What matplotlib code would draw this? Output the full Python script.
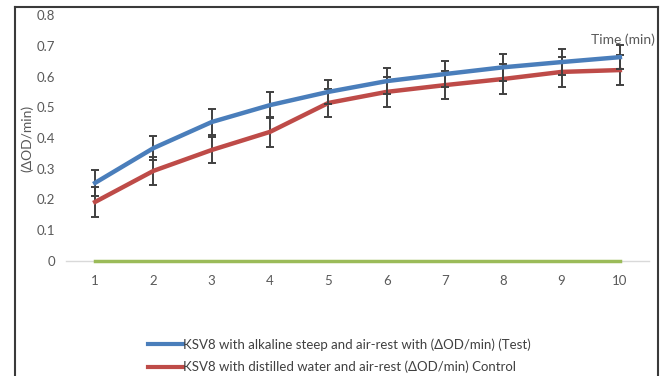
import matplotlib.pyplot as plt
from matplotlib.lines import Line2D

plt.rcParams['font.family'] = ['Lato', 'DejaVu Sans']

time_min = [1, 2, 3, 4, 5, 6, 7, 8, 9, 10]
test_vals = [0.254, 0.367, 0.452, 0.507, 0.550, 0.585, 0.608, 0.630, 0.647, 0.663]
test_err = [0.042, 0.040, 0.042, 0.043, 0.039, 0.042, 0.042, 0.043, 0.043, 0.039]
ctrl_vals = [0.192, 0.293, 0.361, 0.420, 0.514, 0.550, 0.572, 0.592, 0.615, 0.621]
ctrl_err = [0.049, 0.046, 0.043, 0.049, 0.046, 0.050, 0.045, 0.049, 0.049, 0.049]
zero_vals = [0] * 10

blue = '#4a7ebb'
red = '#be4b48'
green = '#9bbb59'
grey_txt = '#595959'

fig = plt.figure(figsize=(6.65, 3.76), dpi=100)
ax = fig.add_axes([0.0992, 0.306, 0.8768, 0.654])

ax.plot(time_min, zero_vals, color=green, lw=2.5, zorder=3, clip_on=False)
ax.errorbar(time_min, test_vals, yerr=test_err, color=blue, lw=3.2,
            ecolor='#404040', elinewidth=1.4, capsize=3, capthick=1.4, zorder=5,
            label='KSV8 with alkaline steep and air-rest with (\u0394OD/min) (Test)')
ax.errorbar(time_min, ctrl_vals, yerr=ctrl_err, color=red, lw=3.2,
            ecolor='#404040', elinewidth=1.4, capsize=3, capthick=1.4, zorder=4,
            label='KSV8 with distilled water and air-rest (\u0394OD/min) Control')

ax.set_xlim(0.5, 10.5)
ax.set_ylim(0, 0.8)
ax.set_xticks(time_min)
ax.set_yticks([0, 0.1, 0.2, 0.3, 0.4, 0.5, 0.6, 0.7, 0.8])
ax.set_yticklabels(['0', '0.1', '0.2', '0.3', '0.4', '0.5', '0.6', '0.7', '0.8'])
for s in ['top', 'right', 'left']:
    ax.spines[s].set_visible(False)
ax.spines['bottom'].set_color('#d9d9d9')
ax.spines['bottom'].set_linewidth(1)
ax.tick_params(axis='both', length=0, colors=grey_txt, labelsize=9.5)
ax.tick_params(axis='x', pad=10)
ax.tick_params(axis='y', pad=8)
ax.set_ylabel('(\u0394OD/min)', color=grey_txt, fontsize=10, labelpad=2)
ax.text(10.6, 0.7, 'Time (min)', color=grey_txt, fontsize=10, ha='right', va='bottom')

labels = ax.get_legend_handles_labels()[1]
handles = [Line2D([], [], color=blue, lw=3), Line2D([], [], color=red, lw=3)]
fig.legend(handles, labels, loc='upper left', bbox_to_anchor=(0.205, 0.132),
           frameon=False, fontsize=9.5, handlelength=2.6, handletextpad=0.0,
           labelspacing=0.75, labelcolor='#404040')

# frame around the picture
fc = '#3a3a3a'
fig.add_artist(Line2D([0.022, 0.022], [0, 0.981], color=fc, lw=1.5, transform=fig.transFigure))
fig.add_artist(Line2D([0.022, 0.99], [0.981, 0.981], color=fc, lw=1.5, transform=fig.transFigure))
fig.add_artist(Line2D([0.99, 0.99], [0, 0.981], color=fc, lw=1.5, transform=fig.transFigure))

fig.savefig('out.png', dpi=100)
